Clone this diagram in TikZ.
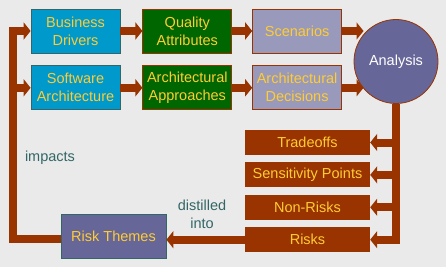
\documentclass[tikz,border=0pt]{standalone}
\usepackage{fontspec}
\setmainfont{Liberation Sans}
\usepackage{tikz}
\usetikzlibrary{arrows.meta,positioning}
\definecolor{atambg}{HTML}{EAEAEA}
\definecolor{atamcyan}{HTML}{0099CC}
\definecolor{atamgreen}{HTML}{006600}
\definecolor{atamlav}{HTML}{9999BB}
\definecolor{atampurple}{HTML}{666699}
\definecolor{atambrown}{HTML}{993300}
\definecolor{atamyellow}{HTML}{FFCC33}
\definecolor{atamteal}{HTML}{336666}

\begin{document}
\begin{tikzpicture}[x=1pt,y=-1pt,>=Latex,font=\fontsize{14.5}{18}\selectfont]

\tikzset{
blk/.style={
    minimum width=89pt,
    minimum height=44pt,
    inner sep=0pt,
    line width=0.8pt,
    align=center,
    text=atamyellow
},
cyanbox/.style={blk,draw=atamteal,fill=atamcyan},
greenbox/.style={blk,draw=atambrown,fill=atamgreen},
lavbox/.style={blk,draw=atambrown,fill=atamlav},
outbox/.style={
    fill=atambrown,
    minimum width=125pt,
    minimum height=25pt,
    inner sep=0pt,
    text=atamyellow
},
flow/.style={
    draw=atambrown,
    line width=8pt,
    line join=miter,
    -{Triangle[length=7pt,width=17pt]}
},
note/.style={text=atamteal,align=center}
}

\useasboundingbox[fill=atambg] (0,0) rectangle (446,267);

% input row
\node[cyanbox] (drivers) at (75.5,31) {Business\\Drivers};
\node[greenbox,right=22pt of drivers] (quality) {Quality\\Attributes};
\node[lavbox,right=20pt of quality] (scen) {Scenarios};

\node[cyanbox,below=12pt of drivers] (arch) {Software\\Architecture};
\node[greenbox,right=22pt of arch] (approach) {Architectural\\Approaches};
\node[lavbox,right=20pt of approach] (decis) {Architectural\\Decisions};

\node[circle,draw=atambrown,line width=0.8pt,fill=atampurple,minimum size=84pt,
  inner sep=0pt,text=white] (analysis) at (396,61.5) {Analysis};

% outputs
\node[outbox] (trade) at (307.5,142.5) {Tradeoffs};
\node[outbox,below=7pt of trade] (sens) {Sensitivity Points};
\node[outbox,below=7pt of sens] (nonrisk) {Non-Risks};
\node[outbox,below=7pt of nonrisk] (risks) {Risks};

\node[blk,minimum width=105pt,draw=atamteal,fill=atampurple] (themes) at (113.5,236) {Risk Themes};

\node[note] (impacts) at (50,158) {impacts};
\node[note] (distilled) at (202,214) {distilled\\into};

\draw[flow] (drivers) -- (quality);
\draw[flow] (quality) -- (scen);
\draw[flow] (arch) -- (approach);
\draw[flow] (approach) -- (decis);
\draw[flow] (scen.east) -- (scen.east -| analysis.140);
\draw[flow] (decis.east) -- (decis.east -| analysis.220);

\draw[flow] (analysis.south) |- (risks.east);
\draw[flow] (analysis.south |- trade.east) -- (trade.east);
\draw[flow] (analysis.south |- sens.east) -- (sens.east);
\draw[flow] (analysis.south |- nonrisk.east) -- (nonrisk.east);

\draw[flow] (risks.west) -- (risks.west -| themes.east);

\coordinate (turn) at (13,238.5);
\draw[flow] (themes.west |- turn) -- (turn) |- (drivers.west);
\draw[flow] (turn |- arch.west) -- (arch.west);

\end{tikzpicture}
\end{document}
